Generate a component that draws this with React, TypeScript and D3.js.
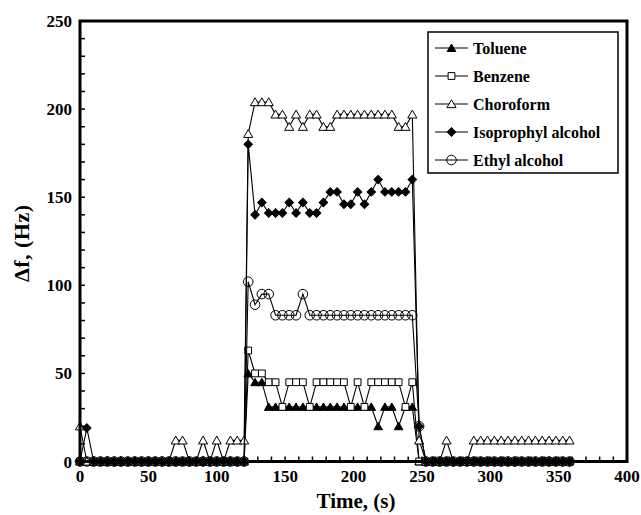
import * as d3 from "d3";

// sampling times (s): baseline, exposure plateau, recovery
const TIMES = [
  0, 5, 10, 15, 20, 25, 30, 35, 40, 45, 50, 55, 60, 65, 70, 75, 80, 85, 90, 95, 100, 105, 110, 115, 120,
  123, 128, 133, 138, 143, 148, 153, 158, 163, 168, 173, 178, 183, 188, 193, 198, 203, 208, 213, 218, 223, 228, 233, 238, 243, 248,
  253, 258, 263, 268, 273, 278, 283, 288, 293, 298, 303, 308, 313, 318, 323, 328, 333, 338, 343, 348, 353, 358,
];

const TOLUENE = [
  0, 0, 0, 0, 0, 0, 0, 0, 0, 0, 0, 0, 0, 0, 0, 0, 0, 0, 0, 0, 0, 0, 0, 0, 0,
  50, 45, 45, 31, 31, 31, 31, 31, 31, 31, 31, 31, 31, 31, 31, 31, 31, 31, 31, 20, 31, 31, 20, 31, 31, 0,
  0, 0, 0, 0, 0, 0, 0, 0, 0, 0, 0, 0, 0, 0, 0, 0, 0, 0, 0, 0, 0, 0,
];

const BENZENE = [
  0, 0, 0, 0, 0, 0, 0, 0, 0, 0, 0, 0, 0, 0, 0, 0, 0, 0, 0, 0, 0, 0, 0, 0, 0,
  63, 50, 50, 45, 45, 31, 45, 45, 45, 31, 45, 45, 45, 45, 45, 31, 45, 31, 45, 45, 45, 45, 45, 31, 45, 0,
  0, 0, 0, 0, 0, 0, 0, 0, 0, 0, 0, 0, 0, 0, 0, 0, 0, 0, 0, 0, 0, 0,
];

const CHOROFORM = [
  20, 0, 0, 0, 0, 0, 0, 0, 0, 0, 0, 0, 0, 0, 12, 12, 0, 0, 12, 0, 12, 0, 12, 12, 12,
  186, 204, 204, 204, 197, 197, 190, 197, 190, 197, 197, 190, 190, 197, 197, 197, 197, 197, 197, 197, 197, 197, 190, 190, 197, 12,
  0, 0, 0, 12, 0, 0, 0, 12, 12, 12, 12, 12, 12, 12, 12, 12, 12, 12, 12, 12, 12, 12,
];

const ISOPROPHYL = [
  0, 19, 0, 0, 0, 0, 0, 0, 0, 0, 0, 0, 0, 0, 0, 0, 0, 0, 0, 0, 0, 0, 0, 0, 0,
  180, 140, 147, 141, 141, 141, 147, 141, 147, 141, 141, 147, 153, 153, 146, 146, 153, 146, 153, 160, 153, 153, 153, 153, 160, 20,
  0, 0, 0, 0, 0, 0, 0, 0, 0, 0, 0, 0, 0, 0, 0, 0, 0, 0, 0, 0, 0, 0,
];

const ETHYL = [
  0, 0, 0, 0, 0, 0, 0, 0, 0, 0, 0, 0, 0, 0, 0, 0, 0, 0, 0, 0, 0, 0, 0, 0, 0,
  102, 89, 95, 95, 83, 83, 83, 83, 95, 83, 83, 83, 83, 83, 83, 83, 83, 83, 83, 83, 83, 83, 83, 83, 83, 20,
  0, 0, 0, 0, 0, 0, 0, 0, 0, 0, 0, 0, 0, 0, 0, 0, 0, 0, 0, 0, 0, 0,
];

const SERIES_NAMES = ["Toluene", "Benzene", "Choroform", "Isoprophyl alcohol", "Ethyl alcohol"];
const SERIES_VALUES = [TOLUENE, BENZENE, CHOROFORM, ISOPROPHYL, ETHYL];
const X_TICKS = [0, 50, 100, 150, 200, 250, 300, 350, 400];
const Y_TICKS = [0, 50, 100, 150, 200, 250];

// ── layout ──
const W = 641;
const H = 515;
const left = 80;
const right = 627;
const top = 21;
const bottom = 461.5;

const FONT = "'Times New Roman', 'Liberation Serif', serif";

const x = d3.scaleLinear().domain([0, 400]).range([left, right]);
const y = d3.scaleLinear().domain([0, 250]).range([bottom, top]);

// marker per series: [symbol, size, fill, rotate]
const MARKERS: [d3.SymbolType, number, string, number][] = [
  [d3.symbolTriangle, 32, "#000", 0],
  [d3.symbolSquare, 46, "#fff", 0],
  [d3.symbolTriangle, 36, "#fff", 0],
  [d3.symbolSquare, 36, "#000", 45],
  [d3.symbolCircle, 72, "none", 0],
];

function Marker({ idx, cx, cy }: { idx: number; cx: number; cy: number }) {
  const [type, size, fill, rot] = MARKERS[idx];
  const dy = type === d3.symbolTriangle ? 1 : 0;
  return (
    <path
      d={d3.symbol(type, size)() as string}
      transform={`translate(${cx},${cy + dy}) rotate(${rot})`}
      fill={fill}
      stroke="#000"
      strokeWidth={1}
    />
  );
}

export default function App() {
  const line = d3
    .line<number>()
    .x((_, i) => x(TIMES[i]))
    .y((d) => y(d));

  const minorX = d3.range(0, 401, 10);
  const minorY = d3.range(0, 251, 10);

  const legendX = 428;
  const legendY = 32;
  const rowH = 28;

  return (
    <svg
      width={W}
      height={H}
      style={{ position: "absolute", left: 0, top: 0, background: "#fff" }}
      fontFamily={FONT}
    >
      {/* series */}
      {SERIES_VALUES.map((vals, si) => (
        <g key={SERIES_NAMES[si]}>
          <path d={line(vals) as string} fill="none" stroke="#000" strokeWidth={1.1} />
          {vals.map((v, i) => (
            <Marker key={i} idx={si} cx={x(TIMES[i])} cy={y(v)} />
          ))}
        </g>
      ))}

      {/* ticks */}
      {minorX.map((t) => (
        <line key={`xt${t}`} x1={x(t)} x2={x(t)} y1={bottom} y2={bottom - 5} stroke="#000" strokeWidth={1.5} />
      ))}
      {minorY.map((t) => (
        <line key={`yt${t}`} x1={left} x2={left + 5} y1={y(t)} y2={y(t)} stroke="#000" strokeWidth={1.5} />
      ))}

      {/* frame */}
      <rect x={left} y={top} width={right - left} height={bottom - top} fill="none" stroke="#000" strokeWidth={3} />

      {/* tick labels */}
      {X_TICKS.map((t) => (
        <text key={`xl${t}`} x={x(t)} y={bottom + 20} textAnchor="middle" fontSize={17} fontWeight="bold">
          {t}
        </text>
      ))}
      {Y_TICKS.map((t) => (
        <text key={`yl${t}`} x={left - 8} y={y(t) + 6} textAnchor="end" fontSize={17} fontWeight="bold">
          {t}
        </text>
      ))}

      {/* axis titles */}
      <text x={356} y={508} textAnchor="middle" fontSize={21} fontWeight="bold">
        Time, (s)
      </text>
      <text
        transform={`translate(29,${(top + bottom) / 2 + 2}) rotate(-90)`}
        textAnchor="middle"
        fontSize={22}
        fontWeight="bold"
        letterSpacing={0.5}
      >
        Δf, (Hz)
      </text>

      {/* legend */}
      <rect x={legendX} y={legendY} width={190} height={141} fill="#fff" stroke="#000" strokeWidth={1.5} />
      {SERIES_NAMES.map((name, i) => {
        const ly = legendY + 16 + i * rowH;
        return (
          <g key={name}>
            <line x1={legendX + 7} x2={legendX + 40} y1={ly} y2={ly} stroke="#000" strokeWidth={1} />
            <Marker idx={i} cx={legendX + 23.5} cy={ly} />
            <text x={legendX + 45} y={ly + 5.5} fontSize={16} fontWeight="bold">
              {name}
            </text>
          </g>
        );
      })}
    </svg>
  );
}
